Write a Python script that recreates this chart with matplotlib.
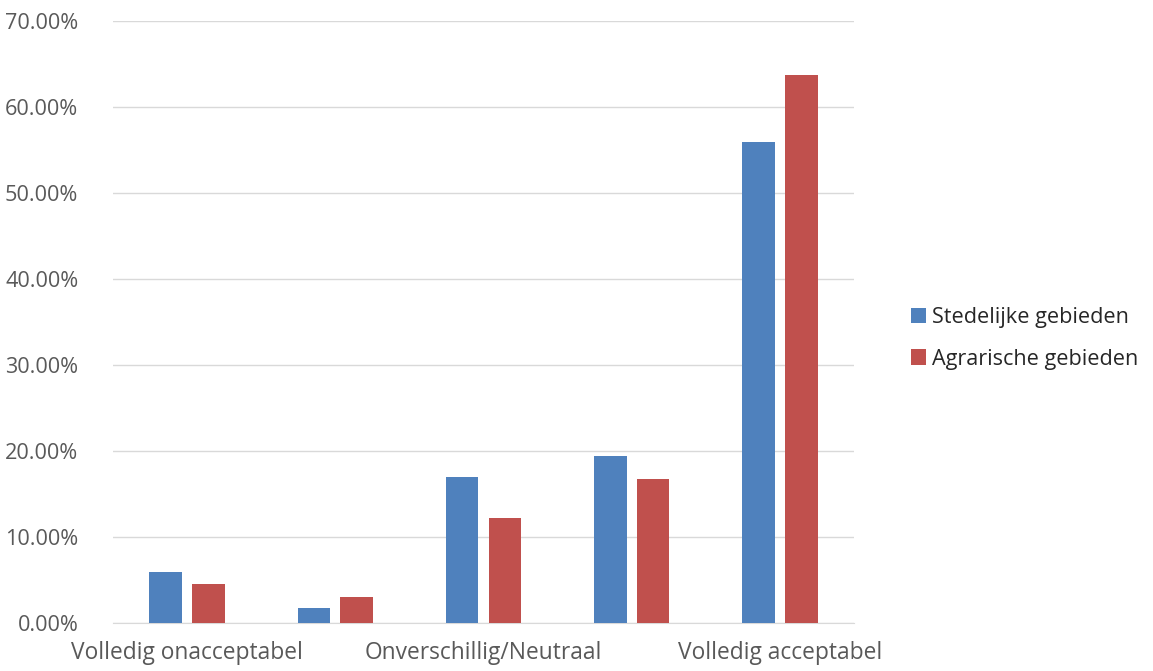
import numpy as np
import matplotlib
matplotlib.use("Agg")
import matplotlib.pyplot as plt
from matplotlib.ticker import PercentFormatter

categories = ["Volledig onacceptabel", "Onacceptabel", "Onverschillig/Neutraal",
              "Acceptabel", "Volledig acceptabel"]
tick_labels = ["Volledig onacceptabel", "", "Onverschillig/Neutraal", "", "Volledig acceptabel"]
stedelijk = [5.9, 1.7, 17.0, 19.4, 55.9]
agrarisch = [4.5, 3.0, 12.2, 16.7, 63.7]
series_names = ["Stedelijke gebieden", "Agrarische gebieden"]

plt.rcParams['font.family'] = ['Open Sans', 'DejaVu Sans']

fig = plt.figure(figsize=(11.53, 6.71), dpi=100)
ax = fig.add_axes([0.098, 0.0715, 0.6427, 0.8972])

x = np.arange(len(categories))
w = 0.22
ax.bar(x - 0.144, stedelijk, w, color="#4F81BD", label=series_names[0], zorder=3)
ax.bar(x + 0.144, agrarisch, w, color="#C0504D", label=series_names[1], zorder=3)

ax.set_xlim(-0.5, len(categories) - 0.5)
ax.set_ylim(0, 70)
ax.set_yticks(np.arange(0, 71, 10))
ax.yaxis.set_major_formatter(PercentFormatter(decimals=2))
ax.set_xticks(x)
ax.set_xticklabels(tick_labels)

ax.grid(axis="y", color="#D9D9D9", linewidth=1, zorder=0)
for s in ["top", "right", "left"]:
    ax.spines[s].set_visible(False)
ax.spines["bottom"].set_color("#D9D9D9")
ax.tick_params(axis="x", length=0, labelsize=16.4, colors="#595959", pad=13)
ax.tick_params(axis="y", length=0, labelsize=15.6, colors="#595959", pad=25)

ax.legend(loc="center left", bbox_to_anchor=(1.05, 0.473), frameon=False,
          fontsize=15.6, handlelength=0.7, handleheight=0.7, handletextpad=0.3,
          labelspacing=0.95, labelcolor="#262626")

fig.savefig("out.png", dpi=100)
